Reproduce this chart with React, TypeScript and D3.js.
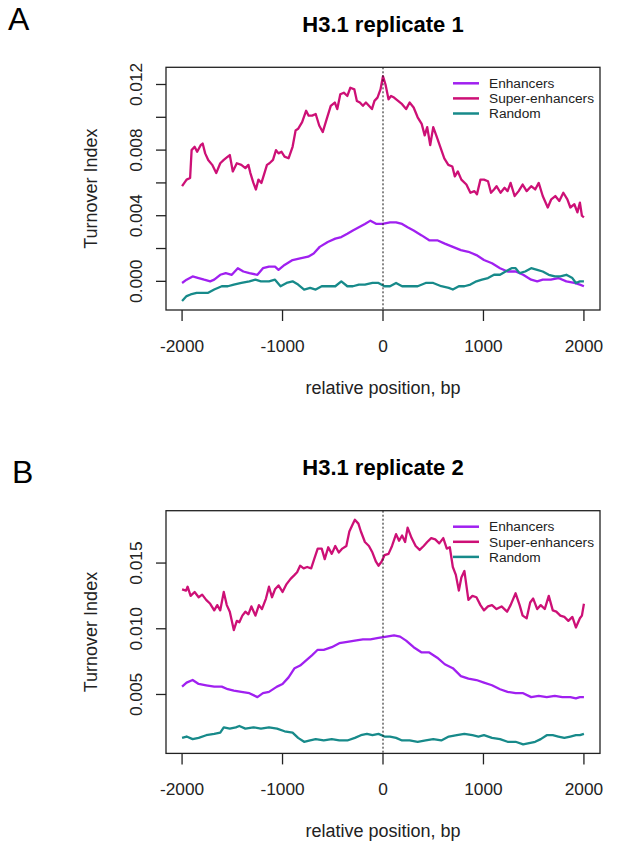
import * as d3 from 'd3';
import { ReactElement } from 'react';

// ─ Data ─────────────────────────────────────────────────────────────────────────────────────────
// [relative position (bp), turnover index]
type Point = [number, number];

const superA: Point[] = [
  [-2000, 0.0058], [-1955, 0.0062], [-1920, 0.0063], [-1905, 0.0080], [-1875, 0.0082], [-1850, 0.0079],
  [-1815, 0.0083], [-1795, 0.0084], [-1770, 0.0078], [-1740, 0.0074], [-1700, 0.0071], [-1660, 0.0066],
  [-1620, 0.0072], [-1585, 0.0074], [-1545, 0.0076], [-1525, 0.0077], [-1495, 0.0067], [-1455, 0.0072],
  [-1410, 0.0071], [-1370, 0.0069], [-1340, 0.0071], [-1320, 0.0066], [-1290, 0.0060], [-1265, 0.0056],
  [-1240, 0.0062], [-1210, 0.0060], [-1180, 0.0066], [-1155, 0.0071], [-1130, 0.0072], [-1095, 0.0074],
  [-1065, 0.0080], [-1040, 0.0078], [-1010, 0.0079], [-980, 0.0076], [-940, 0.0075], [-900, 0.0082],
  [-870, 0.0092], [-845, 0.0093], [-805, 0.0097], [-765, 0.0104], [-740, 0.0101], [-705, 0.0101],
  [-670, 0.0102], [-635, 0.0095], [-600, 0.0091], [-560, 0.0099], [-520, 0.0107], [-480, 0.0109],
  [-455, 0.0105], [-425, 0.0114], [-390, 0.0115], [-355, 0.0113], [-325, 0.0118], [-285, 0.0117],
  [-260, 0.0110], [-230, 0.0109], [-200, 0.0107], [-170, 0.0109], [-140, 0.0107], [-110, 0.0105],
  [-85, 0.0110], [-55, 0.0112], [-25, 0.0117], [0, 0.0125], [25, 0.0120], [55, 0.0111], [80, 0.0113],
  [110, 0.0112], [150, 0.0110], [190, 0.0108], [230, 0.0105], [265, 0.0109], [305, 0.0106], [345, 0.0100],
  [385, 0.0096], [415, 0.0089], [440, 0.0094], [470, 0.0083], [500, 0.0094], [530, 0.0089], [570, 0.0082],
  [610, 0.0075], [650, 0.0071], [690, 0.0070], [715, 0.0064], [745, 0.0067], [780, 0.0062], [830, 0.0059],
  [870, 0.0054], [910, 0.0055], [935, 0.0053], [970, 0.0062], [1005, 0.0062], [1045, 0.0061], [1075, 0.0054],
  [1105, 0.0056], [1130, 0.0058], [1170, 0.0054], [1210, 0.0057], [1240, 0.0055], [1270, 0.0060],
  [1310, 0.0052], [1350, 0.0055], [1390, 0.0059], [1430, 0.0055], [1475, 0.0058], [1515, 0.0056],
  [1550, 0.0060], [1590, 0.0052], [1640, 0.0045], [1675, 0.0050], [1715, 0.0052], [1755, 0.0049],
  [1795, 0.0054], [1835, 0.0050], [1865, 0.0045], [1905, 0.0047], [1935, 0.0042], [1960, 0.0048],
  [1980, 0.0040], [2000, 0.0039],
];

const enhancersA: Point[] = [
  [-2000, -0.0001], [-1955, 0.0001], [-1895, 0.0003], [-1835, 0.0002], [-1780, 0.0001], [-1720, 0.0000],
  [-1680, 0.0001], [-1620, 0.0004], [-1565, 0.0005], [-1505, 0.0004], [-1445, 0.0008], [-1390, 0.0006],
  [-1330, 0.0005], [-1250, 0.0004], [-1195, 0.0008], [-1135, 0.0009], [-1075, 0.0009], [-1040, 0.0007],
  [-980, 0.0010], [-900, 0.0013], [-825, 0.0014], [-745, 0.0015], [-690, 0.0017], [-630, 0.0021],
  [-550, 0.0024], [-475, 0.0026], [-415, 0.0027], [-355, 0.0029], [-300, 0.0031], [-240, 0.0033],
  [-180, 0.0035], [-125, 0.0037], [-65, 0.0035], [-5, 0.0035], [70, 0.0036], [130, 0.0036], [190, 0.0035],
  [245, 0.0033], [305, 0.0031], [385, 0.0028], [460, 0.0025], [540, 0.0025], [615, 0.0023], [695, 0.0021],
  [775, 0.0019], [850, 0.0018], [930, 0.0016], [1005, 0.0013], [1085, 0.0011], [1165, 0.0008],
  [1240, 0.0006], [1320, 0.0006], [1395, 0.0004], [1475, 0.0001], [1535, 0.0000], [1590, 0.0001],
  [1670, 0.0001], [1745, 0.0002], [1825, 0.0000], [1905, -0.0001], [1960, -0.0002], [2000, -0.0003],
];

const randomA: Point[] = [
  [-2000, -0.0012], [-1955, -0.0009], [-1915, -0.0008], [-1855, -0.0007], [-1800, -0.0007], [-1740, -0.0007],
  [-1680, -0.0005], [-1605, -0.0003], [-1545, -0.0003], [-1485, -0.0002], [-1410, -0.0001], [-1330, 0.0000],
  [-1270, 0.0001], [-1215, 0.0000], [-1135, 0.0000], [-1075, 0.0001], [-1020, -0.0003], [-960, -0.0001],
  [-900, 0.0000], [-845, -0.0002], [-785, -0.0005], [-725, -0.0004], [-670, -0.0005], [-610, -0.0003],
  [-550, -0.0003], [-475, -0.0003], [-415, 0.0000], [-355, -0.0003], [-300, -0.0003], [-240, -0.0002],
  [-180, -0.0002], [-105, -0.0001], [-45, -0.0001], [15, -0.0003], [70, -0.0003], [130, -0.0001],
  [190, -0.0003], [265, -0.0003], [345, -0.0003], [425, -0.0001], [500, -0.0001], [580, -0.0003],
  [655, -0.0004], [695, -0.0005], [755, -0.0003], [810, -0.0003], [870, -0.0002], [930, 0.0000],
  [985, 0.0001], [1045, 0.0002], [1105, 0.0004], [1165, 0.0004], [1220, 0.0006], [1280, 0.0008],
  [1320, 0.0008], [1360, 0.0005], [1415, 0.0006], [1475, 0.0008], [1535, 0.0007], [1590, 0.0006],
  [1650, 0.0004], [1710, 0.0003], [1765, 0.0003], [1825, 0.0004], [1885, 0.0002], [1920, -0.0001],
  [1960, 0.0000], [2000, 0.0000],
];

const superB: Point[] = [
  [-2000, 0.0130], [-1960, 0.0129], [-1945, 0.0132], [-1915, 0.0125], [-1875, 0.0128], [-1835, 0.0124],
  [-1800, 0.0126], [-1760, 0.0122], [-1720, 0.0119], [-1680, 0.0114], [-1650, 0.0118], [-1620, 0.0114],
  [-1585, 0.0128], [-1555, 0.0118], [-1525, 0.0113], [-1485, 0.0099], [-1455, 0.0106], [-1430, 0.0105],
  [-1400, 0.0110], [-1370, 0.0113], [-1340, 0.0111], [-1310, 0.0117], [-1270, 0.0110], [-1235, 0.0118],
  [-1205, 0.0115], [-1165, 0.0123], [-1135, 0.0132], [-1105, 0.0124], [-1075, 0.0130], [-1040, 0.0133],
  [-1000, 0.0128], [-960, 0.0134], [-920, 0.0138], [-880, 0.0141], [-855, 0.0143], [-825, 0.0148],
  [-790, 0.0146], [-755, 0.0147], [-715, 0.0146], [-685, 0.0153], [-650, 0.0161], [-610, 0.0161],
  [-580, 0.0153], [-545, 0.0162], [-510, 0.0157], [-475, 0.0163], [-440, 0.0158], [-405, 0.0161],
  [-365, 0.0163], [-335, 0.0174], [-305, 0.0179], [-280, 0.0183], [-245, 0.0180], [-220, 0.0174],
  [-180, 0.0166], [-140, 0.0163], [-105, 0.0158], [-70, 0.0151], [-45, 0.0148], [-15, 0.0151],
  [15, 0.0156], [55, 0.0157], [90, 0.0163], [130, 0.0172], [160, 0.0167], [190, 0.0171], [220, 0.0166],
  [245, 0.0177], [285, 0.0169], [325, 0.0163], [365, 0.0160], [405, 0.0163], [440, 0.0166], [480, 0.0169],
  [520, 0.0168], [560, 0.0165], [600, 0.0169], [635, 0.0161], [665, 0.0162], [695, 0.0147], [725, 0.0141],
  [755, 0.0129], [780, 0.0139], [810, 0.0144], [850, 0.0122], [890, 0.0125], [930, 0.0124], [970, 0.0118],
  [1005, 0.0114], [1045, 0.0117], [1085, 0.0118], [1130, 0.0115], [1180, 0.0117], [1235, 0.0113],
  [1270, 0.0118], [1320, 0.0127], [1360, 0.0118], [1390, 0.0110], [1430, 0.0108], [1465, 0.0120],
  [1495, 0.0123], [1535, 0.0115], [1570, 0.0118], [1610, 0.0115], [1650, 0.0125], [1690, 0.0114],
  [1725, 0.0113], [1765, 0.0110], [1805, 0.0109], [1845, 0.0106], [1885, 0.0109], [1920, 0.0101],
  [1960, 0.0108], [1980, 0.0110], [2000, 0.0119],
];

const enhancersB: Point[] = [
  [-2000, 0.0056], [-1955, 0.0059], [-1895, 0.0061], [-1835, 0.0058], [-1760, 0.0057], [-1680, 0.0056],
  [-1605, 0.0056], [-1545, 0.0054], [-1485, 0.0053], [-1410, 0.0052], [-1330, 0.0051], [-1250, 0.0048],
  [-1195, 0.0051], [-1135, 0.0052], [-1055, 0.0056], [-1000, 0.0058], [-940, 0.0063], [-880, 0.0070],
  [-825, 0.0072], [-765, 0.0076], [-705, 0.0080], [-650, 0.0084], [-590, 0.0084], [-510, 0.0086],
  [-435, 0.0089], [-355, 0.0090], [-280, 0.0091], [-200, 0.0092], [-125, 0.0092], [-45, 0.0093],
  [35, 0.0094], [110, 0.0095], [170, 0.0094], [230, 0.0091], [305, 0.0086], [385, 0.0082], [460, 0.0082],
  [540, 0.0078], [615, 0.0073], [695, 0.0070], [775, 0.0064], [850, 0.0062], [930, 0.0061], [1005, 0.0059],
  [1085, 0.0057], [1165, 0.0054], [1240, 0.0052], [1320, 0.0051], [1395, 0.0051], [1475, 0.0048],
  [1550, 0.0049], [1630, 0.0048], [1710, 0.0049], [1785, 0.0048], [1865, 0.0048], [1920, 0.0047],
  [1960, 0.0048], [2000, 0.0048],
];

const randomB: Point[] = [
  [-2000, 0.0017], [-1955, 0.0018], [-1895, 0.0016], [-1835, 0.0017], [-1760, 0.0019], [-1680, 0.0020],
  [-1620, 0.0021], [-1585, 0.0025], [-1525, 0.0024], [-1465, 0.0025], [-1430, 0.0026], [-1370, 0.0024],
  [-1290, 0.0025], [-1215, 0.0024], [-1135, 0.0025], [-1055, 0.0024], [-980, 0.0022], [-900, 0.0021],
  [-845, 0.0017], [-785, 0.0014], [-725, 0.0015], [-670, 0.0016], [-590, 0.0015], [-510, 0.0016],
  [-435, 0.0015], [-355, 0.0015], [-280, 0.0017], [-220, 0.0019], [-160, 0.0020], [-105, 0.0019],
  [-45, 0.0020], [15, 0.0018], [70, 0.0018], [130, 0.0017], [190, 0.0015], [265, 0.0015], [345, 0.0014],
  [425, 0.0015], [500, 0.0016], [580, 0.0015], [655, 0.0018], [735, 0.0019], [810, 0.0020], [890, 0.0019],
  [950, 0.0018], [1005, 0.0019], [1085, 0.0017], [1165, 0.0016], [1240, 0.0014], [1320, 0.0014],
  [1395, 0.0012], [1455, 0.0013], [1515, 0.0014], [1570, 0.0016], [1630, 0.0019], [1690, 0.0019],
  [1745, 0.0018], [1805, 0.0017], [1865, 0.0018], [1920, 0.0019], [1960, 0.0019], [2000, 0.0020],
];

const seriesNames = ['Enhancers', 'Super-enhancers', 'Random'];
const seriesColors = ['#a020f0', '#cd1076', '#178a8a'];

const xTicks = [-2000, -1000, 0, 1000, 2000];
const yTicksA = [0, 0.002, 0.004, 0.006, 0.008, 0.01, 0.012];
const yLabelsA = ['0.000', '', '0.004', '', '0.008', '', '0.012'];
const yTicksB = [0.005, 0.01, 0.015];
const yLabelsB = ['0.005', '0.010', '0.015'];

// ─ Layout ───────────────────────────────────────────────────────────────────────────────────────
const WIDTH = 617;
const HEIGHT = 849;
const BOX_LEFT = 166;
const BOX_RIGHT = 600;
const BOX_HEIGHT = 242.7;
const FONT = '"Liberation Sans", Arial, Helvetica, sans-serif';
const INK = '#222';

interface PanelProps {
  letter: string;
  letterX: number;
  letterY: number;
  title: string;
  top: number;
  series: Point[][];
  yTicks: number[];
  yLabels: string[];
}

// R-style axis range: data extent padded by 4% on each side
const padExtent = (lo: number, hi: number): [number, number] => {
  const pad = (hi - lo) * 0.04;
  return [lo - pad, hi + pad];
};

const Panel = ({ letter, letterX, letterY, title, top, series, yTicks, yLabels }: PanelProps): ReactElement => {
  const bottom = top + BOX_HEIGHT;
  const all = series.flat();
  const yExt = d3.extent(all, d => d[1]) as [number, number];

  const x = d3.scaleLinear().domain(padExtent(-2000, 2000)).range([BOX_LEFT, BOX_RIGHT]);
  const y = d3.scaleLinear().domain(padExtent(yExt[0], yExt[1])).range([bottom, top]);

  const line = d3.line<Point>().x(d => x(d[0])).y(d => y(d[1]));
  const midX = (BOX_LEFT + BOX_RIGHT) / 2;

  return (
    <g fontFamily={FONT} fill={INK}>
      <text x={letterX} y={letterY} fontSize={32} fill="#000">{letter}</text>
      <text x={midX} y={top - 35.6} textAnchor="middle" fontSize={22} fontWeight="bold" fill="#000">{title}</text>

      {/* Series */}
      {series.map((s, i) => (
        <path key={seriesNames[i]} d={line(s) || ''} fill="none" stroke={seriesColors[i]}
          strokeWidth={2.3} strokeLinejoin="round" />
      ))}

      {/* Zero marker */}
      <line x1={x(0)} x2={x(0)} y1={top} y2={bottom} stroke="#111" strokeWidth={1} strokeDasharray="2,2" />

      {/* Box */}
      <rect x={BOX_LEFT} y={top} width={BOX_RIGHT - BOX_LEFT} height={BOX_HEIGHT}
        fill="none" stroke={INK} strokeWidth={1.3} />

      {/* X axis */}
      {xTicks.map(t => (
        <g key={t}>
          <line x1={x(t)} x2={x(t)} y1={bottom} y2={bottom + 11} stroke={INK} strokeWidth={1.3} />
          <text x={x(t)} y={bottom + 41.7} textAnchor="middle" fontSize={17.3}>{t}</text>
        </g>
      ))}
      <text x={midX} y={bottom + 84} textAnchor="middle" fontSize={18}>relative position, bp</text>

      {/* Y axis */}
      {yTicks.map((t, i) => (
        <g key={t}>
          <line x1={BOX_LEFT - 10} x2={BOX_LEFT} y1={y(t)} y2={y(t)} stroke={INK} strokeWidth={1.3} />
          {yLabels[i] && (
            <text transform={`translate(141.7,${y(t)}) rotate(-90)`} textAnchor="middle" fontSize={17.3}>
              {yLabels[i]}
            </text>
          )}
        </g>
      ))}
      <text transform={`translate(96.7,${top + BOX_HEIGHT / 2}) rotate(-90)`} textAnchor="middle" fontSize={18}>
        Turnover Index
      </text>

      {/* Legend */}
      {seriesNames.map((name, i) => {
        const ly = top + 16 + i * 15.1;
        return (
          <g key={name}>
            <line x1={453} x2={479} y1={ly} y2={ly} stroke={seriesColors[i]} strokeWidth={2.5} />
            <text x={489} y={ly} dy="0.35em" fontSize={13.7}>{name}</text>
          </g>
        );
      })}
    </g>
  );
};

export default function App(): ReactElement {
  return (
    <svg width={WIDTH} height={HEIGHT} style={{ position: 'absolute', left: 0, top: 0, background: '#fff' }}>
      <Panel letter="A" letterX={8} letterY={30} title="H3.1 replicate 1" top={67.3}
        series={[enhancersA, superA, randomA]} yTicks={yTicksA} yLabels={yLabelsA} />
      <Panel letter="B" letterX={12} letterY={483.3} title="H3.1 replicate 2" top={510.7}
        series={[enhancersB, superB, randomB]} yTicks={yTicksB} yLabels={yLabelsB} />
    </svg>
  );
}
